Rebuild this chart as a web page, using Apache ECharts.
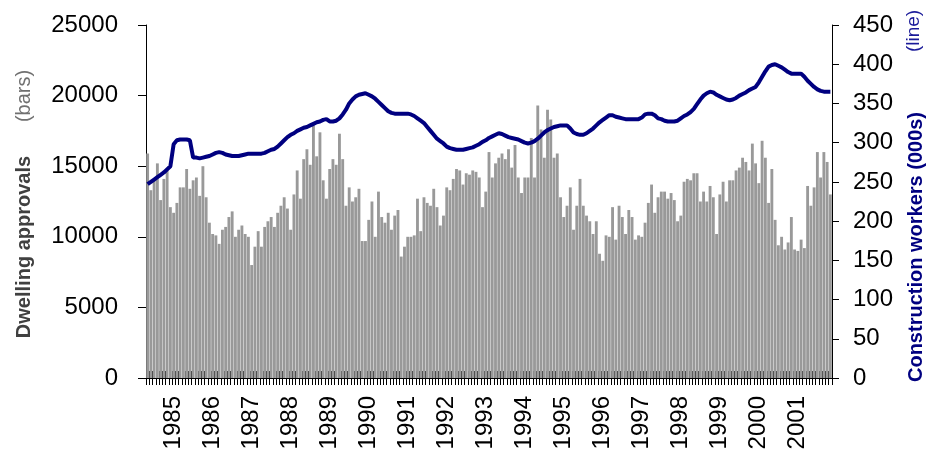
<!DOCTYPE html>
<html>
<head>
<meta charset="utf-8">
<script src="https://cdn.jsdelivr.net/npm/echarts@6/dist/echarts.min.js"></script>
<style>
html,body{margin:0;padding:0;background:#fff;}
#main{width:928px;height:455px;}
</style>
</head>
<body>
<div id="main"></div>
<script>
// monthly series, May 1984 .. Nov 2001
var startYear = 1984, startMonth = 5;
var yearLabels = ['1985','1986','1987','1988','1989','1990','1991','1992','1993','1994','1995','1996','1997','1998','1999','2000','2001'];

// dwelling approvals (bars, left axis)
var approvals = [
 15900,13300,14100,15200,12600,14100,14700,12100,11700,12400,13500,13500,
 14800,13400,14000,14200,12900,15000,12800,11000,10200,10100,9500,10500,
 10700,11400,11800,10000,10500,10800,10200,10000,8000,9300,10400,9300,
 10700,11100,11400,10700,11700,12200,12800,12000,10500,13000,14700,12700,
 15500,16200,15100,17900,15700,17400,14000,12700,14800,15500,15100,17300,
 15500,12200,13500,12500,12800,13400,9700,9700,11200,12500,10000,13200,
 11400,11000,11700,10500,11500,11900,8600,9300,10000,10000,10100,12700,
 10400,12800,12400,12200,13400,12100,10800,11500,13500,13300,14100,14800,
 14700,13700,14500,14400,14700,14600,14200,12100,13200,16000,14200,15200,
 15600,15900,15500,16200,14900,16500,14200,13100,14200,14200,17000,14200,
 19300,17600,15600,19000,18300,15600,15900,12800,11400,12200,13500,10500,
 12200,14100,12200,11500,11100,10200,11100,8800,8300,10100,10000,12100,
 9800,12200,11400,10200,11900,11400,9800,10100,10000,11000,12400,13700,
 11700,12800,13200,13200,12700,13100,12600,11100,11500,13900,14100,14000,
 14500,14500,12500,13200,12500,13600,12800,10200,13000,13900,12500,14000,
 14000,14700,14900,15600,15300,14700,16600,15200,13800,16800,15600,12400,
 14800,11200,9400,10000,9100,9600,11400,9100,9000,9800,9200,13600,
 12200,13500,16000,14200,16000,15300,13000
];

// construction workers, 000s (line, right axis)
var workers = [
 247,250,253,256,259,262,266,270,298,303,304,304,
 304,303,281,281,280,281,282,283,285,287,288,287,
 285,284,283,283,283,284,285,286,286,286,286,286,
 287,289,291,292,295,299,303,307,310,312,315,317,
 319,320,322,324,326,327,329,330,327,327,328,331,
 336,342,350,355,359,361,362,363,361,359,356,352,
 348,344,340,338,337,337,337,337,337,336,334,331,
 328,325,320,315,310,305,302,299,295,293,292,291,
 291,291,292,293,294,296,298,301,303,306,308,310,
 312,311,309,307,306,305,304,302,300,299,300,302,
 305,309,313,316,318,320,321,322,322,322,318,313,
 311,310,310,312,315,318,322,326,329,332,335,335,
 333,332,331,330,330,330,330,330,332,336,337,337,
 335,331,330,328,327,327,327,328,331,334,336,339,
 343,349,355,360,363,365,364,361,359,357,355,354,
 355,357,360,362,364,367,369,371,377,384,391,397,
 399,400,398,396,393,390,388,388,388,388,384,379,
 375,371,368,366,365,365,365
];

var months = [];
for (var k = 0; k < approvals.length; k++) {
	var m = startMonth - 1 + k;
	var yy = startYear + Math.floor(m / 12);
	var mm = (m % 12) + 1;
	months.push(yy + '-' + (mm < 10 ? '0' + mm : mm));
}

var fontFam = '"Liberation Sans", Arial, sans-serif';

var myChart = echarts.init(document.getElementById('main'));
var option = {
	backgroundColor: '#ffffff',
	animation: false,
	grid: {
		left: 146, right: 96, top: 25, bottom: 77,
		containLabel: false,
		outerBoundsMode: 'none'
	},
	xAxis: [{
		type: 'category',
		data: months,
		position: 'bottom',
		axisLine: { show: true, lineStyle: { color: '#000', width: 1 } },
		axisTick: { show: true, interval: 0, length: 7, lineStyle: { color: '#000' } },
		axisLabel: {
			interval: function (index) { return index % 12 === 8; },
			formatter: function (v) {
				var y = v.slice(0, 4);
				return yearLabels.indexOf(y) >= 0 ? y : '';
			},
			rotate: 90,
			margin: 18,
			color: '#000',
			fontSize: 24,
			fontFamily: fontFam
		},
		splitLine: { show: false }
	}, {
		type: 'category',
		data: months,
		position: 'bottom',
		axisLine: { show: false },
		axisTick: { show: true, inside: true, interval: 0, length: 7, lineStyle: { color: '#000' } },
		axisLabel: { show: false },
		splitLine: { show: false }
	}],
	yAxis: [{
		type: 'value',
		min: 0, max: 25000, interval: 5000,
		position: 'left',
		axisLine: { show: true, lineStyle: { color: '#000' } },
		axisTick: { show: true, length: 8, lineStyle: { color: '#000' } },
		axisLabel: {
			margin: 28, color: '#000', fontSize: 24, fontFamily: fontFam,
			formatter: function (v) { return String(v); }
		},
		splitLine: { show: false }
	}, {
		type: 'value',
		min: 0, max: 450, interval: 50,
		position: 'right',
		axisLine: { show: true, lineStyle: { color: '#000' } },
		axisTick: { show: true, length: 7, lineStyle: { color: '#000' } },
		axisLabel: { margin: 21, color: '#000', fontSize: 24, fontFamily: fontFam },
		splitLine: { show: false }
	}],
	graphic: [
		{ type: 'text', x: 24, y: 247, rotation: Math.PI / 2,
		  style: { text: 'Dwelling approvals', fill: '#404040', font: 'bold 20px ' + fontFam, textAlign: 'center', textVerticalAlign: 'middle' } },
		{ type: 'text', x: 24, y: 96, rotation: Math.PI / 2,
		  style: { text: '(bars)', fill: '#707070', font: '20px ' + fontFam, textAlign: 'center', textVerticalAlign: 'middle' } },
		{ type: 'text', x: 916, y: 247, rotation: Math.PI / 2,
		  style: { text: 'Construction workers (000s)', fill: '#000080', font: 'bold 20px ' + fontFam, textAlign: 'center', textVerticalAlign: 'middle' } },
		{ type: 'text', x: 914, y: 31, rotation: Math.PI / 2,
		  style: { text: '(line)', fill: '#1a1a99', font: '19px ' + fontFam, textAlign: 'center', textVerticalAlign: 'middle' } }
	],
	series: [{
		name: 'Dwelling approvals',
		type: 'bar',
		xAxisIndex: 0,
		yAxisIndex: 0,
		data: approvals,
		barCategoryGap: '12%',
		itemStyle: { color: '#999999' }
	}, {
		name: 'Construction workers',
		type: 'line',
		xAxisIndex: 0,
		yAxisIndex: 1,
		data: workers,
		symbol: 'none',
		lineStyle: { color: '#000080', width: 4 },
		z: 5
	}]
};
myChart.setOption(option);
</script>
</body>
</html>
